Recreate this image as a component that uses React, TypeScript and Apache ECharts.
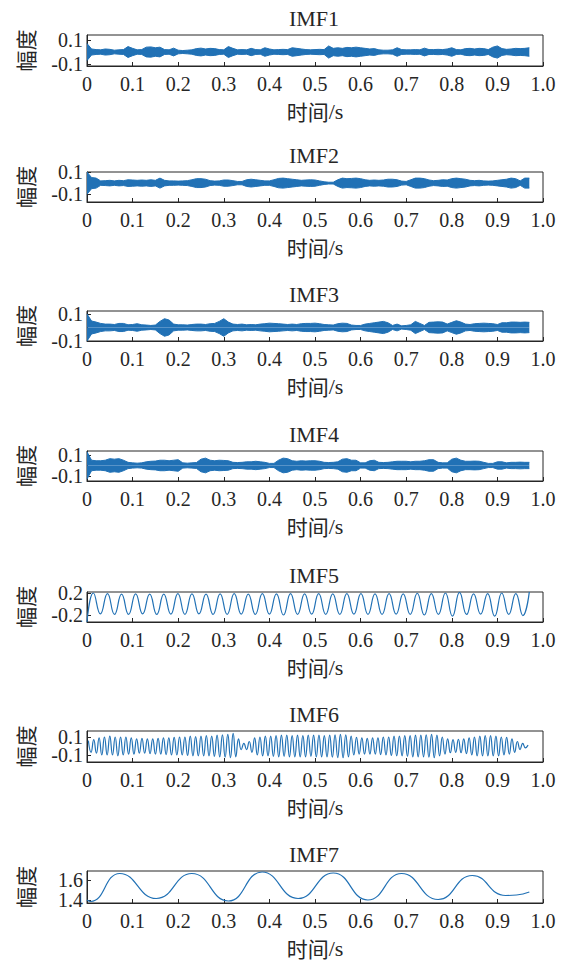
import React, { useEffect, useRef } from "react";
import * as echarts from "echarts";

// ---------------- data ----------------
const IMF_NAMES = ["IMF1", "IMF2", "IMF3", "IMF4", "IMF5", "IMF6", "IMF7"];
const X_TICK_LABELS = ["0", "0.1", "0.2", "0.3", "0.4", "0.5", "0.6", "0.7", "0.8", "0.9", "1.0"];
const Y_LIMITS = [
  [-0.115, 0.14],
  [-0.17, 0.1],
  [-0.1, 0.122],
  [-0.148, 0.138],
  [-0.327, 0.218],
  [-0.178, 0.167],
  [1.37, 1.69],
];
const Y_TICKS = [
  [-0.1, 0.1],
  [-0.1, 0.1],
  [-0.1, 0.1],
  [-0.1, 0.1],
  [-0.2, 0.2],
  [-0.1, 0.1],
  [1.4, 1.6],
];

// envelope (half width) of the dense IMFs, sampled every 0.01 s from 0 to 0.97 s
const ENV_STEP = 0.01;
const IMF1_ENV = [
  0.07, 0.025, 0.02, 0.018, 0.025, 0.022, 0.015, 0.018, 0.02, 0.045,
  0.03, 0.018, 0.02, 0.04, 0.042, 0.035, 0.04, 0.02, 0.018, 0.032,
  0.015, 0.012, 0.015, 0.018, 0.028, 0.032, 0.025, 0.03, 0.028, 0.02,
  0.018, 0.045, 0.03, 0.018, 0.02, 0.018, 0.03, 0.02, 0.018, 0.035,
  0.025, 0.018, 0.02, 0.022, 0.02, 0.035, 0.03, 0.025, 0.02, 0.018,
  0.02, 0.022, 0.02, 0.05, 0.03, 0.035, 0.03, 0.038, 0.035, 0.04,
  0.035, 0.03, 0.025, 0.028, 0.018, 0.015, 0.015, 0.018, 0.035, 0.02,
  0.018, 0.018, 0.02, 0.018, 0.032, 0.02, 0.02, 0.022, 0.02, 0.025,
  0.035, 0.02, 0.018, 0.028, 0.03, 0.025, 0.03, 0.028, 0.02, 0.04,
  0.05, 0.028, 0.022, 0.025, 0.03, 0.028, 0.03, 0.035,
];
const IMF2_ENV = [
  0.1, 0.05, 0.045, 0.02, 0.022, 0.025, 0.02, 0.025, 0.022, 0.03,
  0.028, 0.025, 0.028, 0.025, 0.03, 0.025, 0.045, 0.025, 0.02, 0.02,
  0.018, 0.02, 0.022, 0.03, 0.04, 0.04, 0.035, 0.022, 0.018, 0.02,
  0.028, 0.028, 0.022, 0.015, 0.015, 0.03, 0.035, 0.03, 0.025, 0.02,
  0.02, 0.03, 0.042, 0.045, 0.04, 0.035, 0.03, 0.025, 0.028, 0.03,
  0.028, 0.02, 0.012, 0.008, 0.008, 0.03, 0.045, 0.04, 0.042, 0.045,
  0.04, 0.03, 0.025, 0.028, 0.025, 0.028, 0.035, 0.035, 0.03, 0.018,
  0.015, 0.03, 0.045, 0.045, 0.04, 0.028, 0.022, 0.025, 0.03, 0.028,
  0.04, 0.045, 0.04, 0.035, 0.025, 0.022, 0.025, 0.02, 0.018, 0.02,
  0.025, 0.03, 0.035, 0.045, 0.04, 0.02, 0.045, 0.045,
];
const IMF3_ENV = [
  0.1, 0.048, 0.04, 0.03, 0.025, 0.025, 0.022, 0.03, 0.03, 0.02,
  0.022, 0.028, 0.02, 0.018, 0.015, 0.018, 0.045, 0.065, 0.055, 0.025,
  0.02, 0.02, 0.018, 0.022, 0.025, 0.025, 0.022, 0.028, 0.03, 0.045,
  0.065, 0.04, 0.025, 0.022, 0.025, 0.02, 0.022, 0.02, 0.025, 0.028,
  0.032, 0.03, 0.028, 0.025, 0.022, 0.025, 0.022, 0.028, 0.03, 0.03,
  0.032, 0.028, 0.022, 0.02, 0.018, 0.028, 0.032, 0.03, 0.018, 0.015,
  0.015, 0.025, 0.03, 0.035, 0.04, 0.045, 0.035, 0.015, 0.025, 0.012,
  0.015, 0.02, 0.045, 0.03, 0.015, 0.038, 0.04, 0.042, 0.04, 0.025,
  0.038, 0.05, 0.04, 0.025, 0.022, 0.028, 0.03, 0.032, 0.03, 0.028,
  0.022, 0.035, 0.035, 0.04, 0.04, 0.038, 0.04, 0.038,
];
const IMF4_ENV = [
  0.13, 0.05, 0.045, 0.045, 0.05, 0.065, 0.06, 0.065, 0.05, 0.03,
  0.025, 0.022, 0.025, 0.035, 0.04, 0.042, 0.05, 0.05, 0.045, 0.05,
  0.055, 0.025, 0.022, 0.025, 0.028, 0.06, 0.07, 0.05, 0.045, 0.05,
  0.048, 0.045, 0.03, 0.028, 0.03, 0.035, 0.035, 0.04, 0.035, 0.03,
  0.02, 0.02, 0.05, 0.07, 0.065, 0.045, 0.04, 0.045, 0.042, 0.045,
  0.045, 0.04, 0.03, 0.028, 0.03, 0.035, 0.06, 0.065, 0.05, 0.05,
  0.025, 0.025, 0.045, 0.05, 0.03, 0.028, 0.03, 0.035, 0.04, 0.04,
  0.04, 0.035, 0.04, 0.04, 0.045, 0.055, 0.055, 0.03, 0.025, 0.025,
  0.06, 0.07, 0.05, 0.04, 0.04, 0.042, 0.04, 0.03, 0.02, 0.02,
  0.035, 0.035, 0.025, 0.03, 0.03, 0.032, 0.03, 0.03,
];

// IMF5: start value, successive extrema (first one at IMF5_FIRST_T, spaced IMF5_HALF), end value
const IMF5_START = [0, -0.327];
const IMF5_FIRST_T = 0.014;
const IMF5_HALF = 0.01544;
const IMF5_EXTREMA = [
  0.2, -0.18, 0.19, -0.19, 0.18, -0.19, 0.185, -0.18, 0.18, -0.19,
  0.18, -0.185, 0.19, -0.19, 0.185, -0.18, 0.18, -0.19, 0.185, -0.19,
  0.19, -0.185, 0.18, -0.19, 0.19, -0.185, 0.185, -0.2, 0.19, -0.19,
  0.185, -0.185, 0.19, -0.19, 0.185, -0.19, 0.19, -0.185, 0.19, -0.19,
  0.185, -0.19, 0.19, -0.185, 0.185, -0.19, 0.195, -0.2, 0.19, -0.19,
  0.2, -0.22, 0.21, -0.19, 0.185, -0.185, 0.19, -0.22, 0.2, -0.19,
  0.19, -0.21,
];
const IMF5_END = [0.97, 0.22];

// IMF6: successive extrema, first at IMF6_FIRST_T, spaced IMF6_HALF
const IMF6_FIRST_T = 0.003;
const IMF6_HALF = 0.00588;
const IMF6_EXTREMA = [
  0.06, -0.07, 0.07, -0.08, 0.09, -0.1, 0.1, -0.1, 0.11, -0.1, 0.1, -0.11, 0.1, -0.1, 0.1, -0.09, 0.09,
  -0.09, 0.08, -0.08, 0.085, -0.08, 0.08, -0.085, 0.08, -0.09, 0.085, -0.09, 0.09, -0.095, 0.09, -0.1, 0.095, -0.1,
  0.1, -0.1, 0.1, -0.105, 0.11, -0.11, 0.105, -0.11, 0.11, -0.11, 0.115, -0.11, 0.11, -0.115, 0.12, -0.12, 0.125,
  -0.125, 0.13, -0.13, 0.14, -0.12, 0.08, -0.04, 0.03, -0.04, 0.05, -0.07, 0.09, -0.1, 0.1, -0.11, 0.11, -0.11,
  0.11, -0.115, 0.115, -0.12, 0.12, -0.115, 0.12, -0.12, 0.115, -0.12, 0.12, -0.12, 0.115, -0.12, 0.12, -0.115, 0.12,
  -0.12, 0.12, -0.12, 0.115, -0.12, 0.12, -0.125, 0.125, -0.13, 0.13, -0.13, 0.125, -0.12, 0.11, -0.1, 0.095, -0.09,
  0.09, -0.09, 0.085, -0.09, 0.09, -0.09, 0.09, -0.095, 0.1, -0.1, 0.1, -0.105, 0.11, -0.11, 0.11, -0.11, 0.115,
  -0.115, 0.115, -0.12, 0.12, -0.12, 0.12, -0.12, 0.125, -0.125, 0.13, -0.13, 0.12, -0.11, 0.1, -0.09, 0.08, -0.075,
  0.07, -0.07, 0.075, -0.075, 0.08, -0.085, 0.09, -0.1, 0.1, -0.11, 0.11, -0.11, 0.115, -0.11, 0.115, -0.11, 0.11,
  -0.11, 0.1, -0.1, 0.095, -0.09, 0.08, -0.07, 0.05, -0.04, 0.03, -0.02, 0.01,
];

// IMF7: slow wave, key points (time, value)
const IMF7_T = [0, 0.008, 0.072, 0.152, 0.23, 0.31, 0.384, 0.463, 0.54, 0.616, 0.69, 0.77, 0.845, 0.918, 0.942, 0.97];
const IMF7_V = [1.4, 1.385, 1.665, 1.415, 1.665, 1.39, 1.68, 1.415, 1.67, 1.4, 1.665, 1.405, 1.645, 1.445, 1.45, 1.48];

// ---------------- layout / style ----------------
const W = 566;
const H = 965;
const TOPS = [35, 172, 311, 451, 592, 731, 871];
const HEIGHTS = [31, 30, 30, 30, 30, 31, 32];
const PLOT_LEFT = 87;
const PLOT_WIDTH = 456;
const BLUE = "#2171b5";
const INK = "#262626";
const SERIF = '"Liberation Serif", "Times New Roman", serif';
const CJK = '"Noto Sans CJK SC", "Liberation Serif", sans-serif';
const N = 7;

function yAxisFor(i: number, tickValue: number, primary: boolean) {
  return {
    gridIndex: i,
    type: "value",
    position: "left",
    min: Y_LIMITS[i][0],
    max: Y_LIMITS[i][1],
    axisLine: { show: primary, onZero: false, lineStyle: { color: INK, width: 1 } },
    axisTick: {
      show: true,
      inside: true,
      length: 4,
      customValues: [tickValue],
      lineStyle: { color: INK, width: 1 },
    },
    axisLabel: {
      show: true,
      margin: 4,
      color: INK,
      fontFamily: SERIF,
      fontSize: 20,
      hideOverlap: false,
      showMinLabel: true,
      showMaxLabel: true,
      customValues: [tickValue],
      formatter: (v: number) => String(Math.round(v * 10) / 10),
    },
    splitLine: { show: false },
    name: primary ? "幅度" : "",
    nameLocation: "middle",
    nameRotate: 90,
    nameGap: 52,
    nameTextStyle: { color: INK, fontFamily: CJK, fontSize: 21 },
  };
}

function buildOption() {
  const grid: any[] = [];
  const xAxis: any[] = [];
  const yAxis: any[] = [];
  const series: any[] = [];
  const graphic: any[] = [];

  for (let i = 0; i < N; i++) {
    grid.push({
      left: PLOT_LEFT,
      width: PLOT_WIDTH,
      top: TOPS[i],
      height: HEIGHTS[i],
      show: true,
      borderColor: INK,
      borderWidth: 1,
      backgroundColor: "transparent",
      containLabel: false,
      outerBoundsMode: "none",
    });
    xAxis.push({
      gridIndex: i,
      type: "value",
      min: 0,
      max: 1,
      interval: 0.1,
      axisLine: { show: true, onZero: false, lineStyle: { color: INK, width: 1 } },
      axisTick: { show: true, inside: true, length: 4, lineStyle: { color: INK, width: 1 } },
      axisLabel: {
        show: true,
        margin: 8,
        color: INK,
        fontFamily: SERIF,
        fontSize: 20,
        showMinLabel: true,
        showMaxLabel: true,
        formatter: (v: number) => {
          const idx = Math.round(v * 10);
          return X_TICK_LABELS[idx] ?? "";
        },
      },
      splitLine: { show: false },
      name: "{a|时间}{b|/s}",
      nameLocation: "middle",
      nameGap: 34,
      nameTextStyle: {
        color: INK,
        fontSize: 21,
        lineHeight: 22,
        rich: {
          a: { fontFamily: CJK, fontSize: 21, color: INK, lineHeight: 22 },
          b: { fontFamily: SERIF, fontSize: 22, color: INK, lineHeight: 22 },
        },
      },
    });
    graphic.push({
      type: "text",
      x: 314,
      y: TOPS[i] - 16.5,
      style: {
        text: IMF_NAMES[i],
        fill: INK,
        font: `22px ${SERIF}`,
        align: "center",
        verticalAlign: "middle",
        textAlign: "center",
        textVerticalAlign: "middle",
      },
    });
  }
  // primary y axes (lower tick + name), indices 0..6
  for (let i = 0; i < N; i++) yAxis.push(yAxisFor(i, Y_TICKS[i][0], true));
  // secondary y axes (upper tick), indices 7..13
  for (let i = 0; i < N; i++) yAxis.push(yAxisFor(i, Y_TICKS[i][1], false));

  const envs = [IMF1_ENV, IMF2_ENV, IMF3_ENV, IMF4_ENV];
  envs.forEach((env, i) => {
    const upper = env.map((e, k) => [k * ENV_STEP, e]);
    const lower = env.map((e, k) => [k * ENV_STEP, -e]);
    [upper, lower].forEach((data) => {
      series.push({
        type: "line",
        xAxisIndex: i,
        yAxisIndex: i,
        data,
        symbol: "none",
        showSymbol: false,
        lineStyle: { color: BLUE, width: 1 },
        areaStyle: { color: BLUE, opacity: 1, origin: 0 },
        silent: true,
      });
    });
  });

  const imf5 = [IMF5_START, ...IMF5_EXTREMA.map((v, k) => [IMF5_FIRST_T + k * IMF5_HALF, v]), IMF5_END];
  series.push({
    type: "line",
    xAxisIndex: 4,
    yAxisIndex: 4,
    data: imf5,
    symbol: "none",
    smooth: 0.5,
    lineStyle: { color: BLUE, width: 1.2 },
    silent: true,
  });
  const imf6 = IMF6_EXTREMA.map((v, k) => [IMF6_FIRST_T + k * IMF6_HALF, v]);
  series.push({
    type: "line",
    xAxisIndex: 5,
    yAxisIndex: 5,
    data: imf6,
    symbol: "none",
    smooth: 0.5,
    lineStyle: { color: BLUE, width: 1.2 },
    silent: true,
  });
  const imf7 = IMF7_T.map((t, k) => [t, IMF7_V[k]]);
  series.push({
    type: "line",
    xAxisIndex: 6,
    yAxisIndex: 6,
    data: imf7,
    symbol: "none",
    smooth: 0.5,
    lineStyle: { color: BLUE, width: 1.2 },
    silent: true,
  });

  return {
    animation: false,
    backgroundColor: "#ffffff",
    grid,
    xAxis,
    yAxis,
    series,
    graphic,
  };
}

export default function App() {
  const ref = useRef<HTMLDivElement>(null);
  useEffect(() => {
    if (!ref.current) return;
    const chart = echarts.init(ref.current, undefined, { renderer: "svg", width: W, height: H });
    chart.setOption(buildOption() as any);
    return () => chart.dispose();
  }, []);
  return (
    <div
      ref={ref}
      style={{ position: "absolute", left: 0, top: 0, width: W, height: H, background: "#fff" }}
    />
  );
}
